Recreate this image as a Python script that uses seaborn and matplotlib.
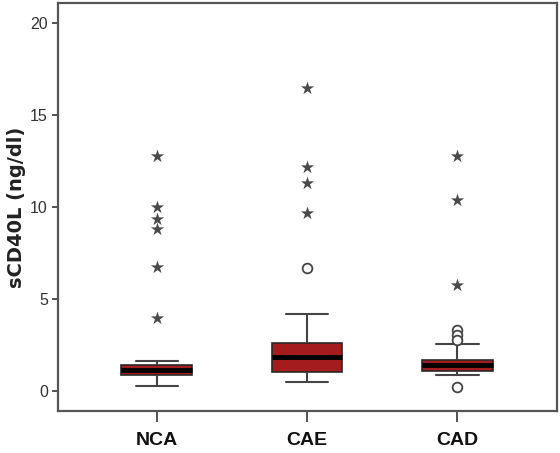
import numpy as np
import pandas as pd
import matplotlib
matplotlib.use("Agg")
import matplotlib.pyplot as plt
import seaborn as sns

groups = ["NCA", "CAE", "CAD"]

# five-number summaries: low whisker, Q1, median, Q3, high whisker
nca_box = [0.27, 0.85, 1.13, 1.40, 1.63]
cae_box = [0.47, 1.02, 1.83, 2.59, 4.17]
cad_box = [0.85, 1.07, 1.40, 1.67, 2.54]

# extreme values (stars) and outliers (circles)
nca_extreme = [12.76, 9.98, 9.33, 8.79, 6.72, 3.96]
cae_extreme = [16.45, 12.2, 11.29, 9.66]
cad_extreme = [12.76, 10.36, 5.75]
nca_outlier = []
cae_outlier = [6.67]
cad_outlier = [3.30, 3.03, 2.76, 0.20]


def long_frame(a, b, c):
    return pd.DataFrame({
        "group": ["NCA"] * len(a) + ["CAE"] * len(b) + ["CAD"] * len(c),
        "value": a + b + c,
    })


box_df = long_frame(nca_box, cae_box, cad_box)
star_df = long_frame(nca_extreme, cae_extreme, cad_extreme)
circ_df = long_frame(nca_outlier, cae_outlier, cad_outlier)

sns.set_style("ticks")
font = ["Liberation Sans", "DejaVu Sans"]

fig = plt.figure(figsize=(5.6, 4.53), dpi=100)
ax = fig.add_axes([57.5 / 560, 1 - 411 / 453, (556.7 - 57.5) / 560, (411 - 3) / 453])

sns.boxplot(data=box_df, x="group", y="value", order=groups, whis=(0, 100),
            width=0.47, color="#a51c1c", saturation=1, linecolor="#2a2a2a",
            linewidth=1.2, showfliers=False, capwidths=0.28,
            medianprops=dict(color="black", linewidth=3.5),
            whiskerprops=dict(color="#444444", linewidth=1.5),
            capprops=dict(color="#444444", linewidth=1.5), ax=ax)

sns.stripplot(data=star_df, x="group", y="value", order=groups, jitter=False,
              marker="*", size=10, color="#4a4a4a", ax=ax)
sns.stripplot(data=circ_df, x="group", y="value", order=groups, jitter=False,
              marker="o", size=7, color="white", edgecolor="#444444",
              linewidth=1.3, ax=ax)

ax.set_xlim(-0.66, 2.66)
ax.set_ylim(-1.1, 21.1)
ax.set_yticks([0, 5, 10, 15, 20])
ax.set_xlabel("")
ax.set_ylabel("sCD40L (ng/dl)", fontsize=14, fontweight="bold",
              color="#222222", labelpad=3)

for s in ax.spines.values():
    s.set_visible(True)
    s.set_color("#555555")
    s.set_linewidth(1.6)

ax.tick_params(axis="y", length=4, width=1.3, color="#444444", pad=3)
ax.tick_params(axis="x", length=8, width=1.3, color="#444444", pad=7)
for lab in ax.get_yticklabels():
    lab.set_family(font)
    lab.set_fontsize(11.5)
    lab.set_color("#333333")
for lab in ax.get_xticklabels():
    lab.set_family(font)
    lab.set_fontsize(14)
    lab.set_fontweight("bold")
    lab.set_color("#111111")

fig.savefig("out.png", dpi=100)
